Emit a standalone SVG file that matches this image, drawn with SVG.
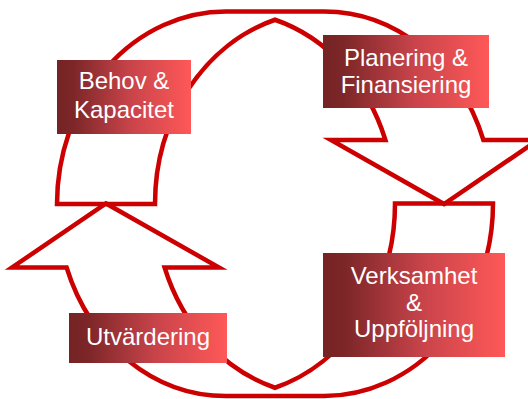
<svg xmlns="http://www.w3.org/2000/svg" width="528" height="399" viewBox="0 0 528 399">
<style>
.arr{fill:none;stroke:#CC0000;stroke-width:4.5;stroke-linejoin:miter}
.box{fill:url(#g)}
.t{font-family:"Liberation Sans",Arial,sans-serif;font-size:24px;fill:#FFFFFF;text-anchor:middle}
</style>
<defs>
<linearGradient id="g" x1="0" y1="0" x2="1" y2="0">
<stop offset="0" stop-color="#752324"/>
<stop offset="0.12" stop-color="#7C2628"/>
<stop offset="0.55" stop-color="#C8444A"/>
<stop offset="1" stop-color="#FF5858"/>
</linearGradient>
</defs>
<rect width="528" height="399" fill="#FFFFFF"/>
<g id="connectors">
<path class="arr" d="M275,19.75 A169,192.5 0 0 0 155,204 L57,204 A169,192.5 0 0 1 226,11.5 L324,11.5 A169,192.5 0 0 1 483.4,140 L538,140 L444,204 L331,140 L385.4,140 A169,192.5 0 0 0 275,19.75 Z"/>
<path class="arr" transform="rotate(180 275 203.75)" d="M275,19.75 A169,192.5 0 0 0 155,204 L57,204 A169,192.5 0 0 1 226,11.5 L324,11.5 A169,192.5 0 0 1 483.4,140 L538,140 L444,204 L331,140 L385.4,140 A169,192.5 0 0 0 275,19.75 Z"/>
</g>
<g id="behov">
<rect class="box" x="57" y="60" width="134" height="74"/>
<text class="t" x="124" y="89">Behov &amp;</text>
<text class="t" x="124" y="118">Kapacitet</text>
</g>
<g id="planering">
<rect class="box" x="323" y="35" width="166" height="73"/>
<text class="t" x="406" y="66">Planering &amp;</text>
<text class="t" x="406" y="93">Finansiering</text>
</g>
<g id="verksamhet">
<rect class="box" x="323" y="253" width="182" height="104"/>
<text class="t" x="414" y="284">Verksamhet</text>
<text class="t" x="414" y="311">&amp;</text>
<text class="t" x="414" y="337">Uppföljning</text>
</g>
<g id="utvardering">
<rect class="box" x="69" y="313" width="158" height="50"/>
<text class="t" x="148" y="345">Utvärdering</text>
</g>
</svg>
